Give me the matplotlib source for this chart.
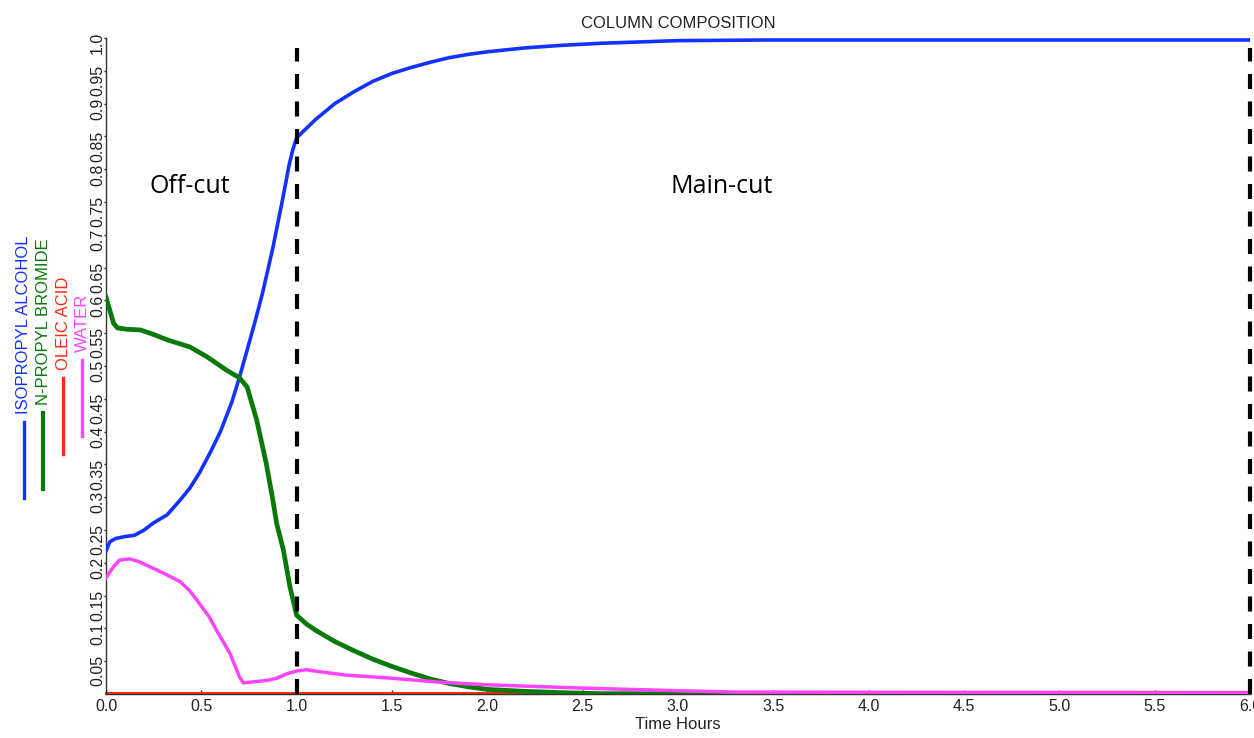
import numpy as np
import matplotlib
matplotlib.use("Agg")
import matplotlib.pyplot as plt
from matplotlib.lines import Line2D

plt.rcParams["font.family"] = ["Liberation Sans", "DejaVu Sans"]

# isopropyl alcohol
t_ipa = np.array([0.0, 0.02, 0.05, 0.10, 0.15, 0.20, 0.25, 0.32, 0.39, 0.44,
                  0.49, 0.55, 0.60, 0.66, 0.70, 0.74, 0.78, 0.82, 0.85, 0.875,
                  0.90, 0.92, 0.94, 0.96, 0.98, 1.0, 1.05, 1.1, 1.2, 1.3,
                  1.4, 1.5, 1.6, 1.7, 1.8, 1.9, 2.0, 2.2, 2.4, 2.6,
                  2.8, 3.0, 3.5, 6.0])
ipa = np.array([0.218, 0.232, 0.237, 0.240, 0.242, 0.250, 0.261, 0.273, 0.296, 0.314,
                0.337, 0.370, 0.400, 0.445, 0.483, 0.524, 0.566, 0.610, 0.648, 0.680,
                0.716, 0.745, 0.775, 0.806, 0.830, 0.848, 0.862, 0.876, 0.900, 0.918,
                0.934, 0.946, 0.955, 0.963, 0.970, 0.975, 0.979, 0.985, 0.989, 0.992,
                0.994, 0.996, 0.997, 0.997])

# n-propyl bromide
t_npb = np.array([0.0, 0.02, 0.04, 0.06, 0.11, 0.18, 0.25, 0.32, 0.44, 0.53,
                  0.63, 0.70, 0.74, 0.79, 0.84, 0.875, 0.895, 0.93, 0.965, 1.0,
                  1.05, 1.1, 1.2, 1.3, 1.4, 1.5, 1.6, 1.7, 1.8, 1.9,
                  2.0, 2.2, 2.4, 2.6, 6.0])
npb = np.array([0.605, 0.585, 0.565, 0.558, 0.556, 0.555, 0.548, 0.540, 0.529, 0.514,
                0.494, 0.482, 0.468, 0.418, 0.352, 0.296, 0.260, 0.220, 0.163, 0.120,
                0.107, 0.097, 0.080, 0.066, 0.053, 0.042, 0.032, 0.023, 0.016, 0.011,
                0.007, 0.004, 0.002, 0.0005, 0.0])

# oleic acid
t_ole = np.array([0.0, 6.0])
ole = np.array([0.0015, 0.0015])

# water
t_wat = np.array([0.0, 0.02, 0.04, 0.07, 0.125, 0.17, 0.23, 0.31, 0.39, 0.44,
                  0.49, 0.54, 0.58, 0.65, 0.70, 0.72, 0.79, 0.85, 0.895, 0.95,
                  1.0, 1.05, 1.12, 1.25, 1.5, 1.75, 2.0, 2.5, 3.0, 3.3, 4.0, 6.0])
wat = np.array([0.177, 0.186, 0.194, 0.204, 0.206, 0.202, 0.194, 0.183, 0.171, 0.157,
                0.138, 0.118, 0.097, 0.062, 0.026, 0.017, 0.019, 0.021, 0.024, 0.031,
                0.035, 0.037, 0.034, 0.029, 0.024, 0.018, 0.014, 0.009, 0.005, 0.003,
                0.0025, 0.0022])

names = ["ISOPROPYL ALCOHOL", "N-PROPYL BROMIDE", "OLEIC ACID", "WATER"]
colors = ["#1432ff", "#0a780a", "#ff2a10", "#ff44ff"]

cut_times = [1.0, 6.0]
yticks = np.round(np.arange(0.05, 1.0001, 0.05), 2)
ytick_labels = ["0.05", "0.1", "0.15", "0.2", "0.25", "0.3", "0.35", "0.4", "0.45",
                "0.5", "0.55", "0.6", "0.65", "0.7", "0.75", "0.8", "0.85", "0.9",
                "0.95", "1.0"]
xticks = np.arange(0, 6.01, 0.5)

W, H = 1254, 738


def px(x, y):
    return x / W, 1 - y / H


def main():
    fig = plt.figure(figsize=(W / 100, H / 100), dpi=100)
    ax = fig.add_axes([106 / W, 44 / H, 1144 / W, 656 / H])

    ax.plot(t_ole, ole, color=colors[2], lw=2.2, zorder=2, clip_on=False)
    ax.plot(t_ipa, ipa, color=colors[0], lw=2.6, zorder=3)
    ax.plot(t_npb, npb, color=colors[1], lw=3.4, zorder=3)
    ax.plot(t_wat, wat, color=colors[3], lw=2.5, zorder=4)

    for t in cut_times:
        ax.vlines(t, 0, 0.985, colors="black", lw=3, linestyles=(0, (3.6, 3.0)),
                  zorder=5, clip_on=False)

    ax.text(0.44, 0.773, "Off-cut", family="Open Sans", fontsize=18,
            ha="center", va="center")
    ax.text(3.23, 0.773, "Main-cut", family="Open Sans", fontsize=18,
            ha="center", va="center")

    ax.set_xlim(0, 6)
    ax.set_ylim(0, 1.0)
    ax.set_xticks(xticks)
    ax.set_xticklabels([f"{v:.1f}" for v in xticks])
    ax.set_yticks(yticks)
    ax.set_yticklabels(ytick_labels, rotation=90)
    ax.tick_params(axis="x", direction="in", length=3, width=1, pad=3.5,
                   labelsize=11.5, colors="#222222")
    ax.tick_params(axis="y", direction="out", length=1.8, width=1, pad=-1,
                   labelsize=11.5, colors="#222222")
    for s in ["top", "right"]:
        ax.spines[s].set_visible(False)
    for s in ["left", "bottom"]:
        ax.spines[s].set_color("#333333")
        ax.spines[s].set_linewidth(1)

    ax.set_title("COLUMN COMPOSITION", fontsize=12, color="#222222", pad=7)
    ax.set_xlabel("Time Hours", fontsize=12, color="#222222", labelpad=2.5)

    # rotated legend on the left
    leg_x = [24, 43, 63, 82]
    leg_top = [422, 413, 378, 360]
    leg_lw = [2.4, 3.0, 2.4, 2.4]
    for name, c, x, top, lw in zip(names, colors, leg_x, leg_top, leg_lw):
        x0, y0 = px(x, top)
        x1, y1 = px(x, top + 76)
        fig.add_artist(Line2D([x0, x1], [y0, y1], color=c, lw=lw,
                              transform=fig.transFigure))
        tx, ty = px(x, top - 8)
        fig.text(tx, ty, name, color=c, fontsize=12, rotation=90,
                 ha="center", va="bottom")

    fig.savefig("out.png", dpi=100)


if __name__ == "__main__":
    main()
